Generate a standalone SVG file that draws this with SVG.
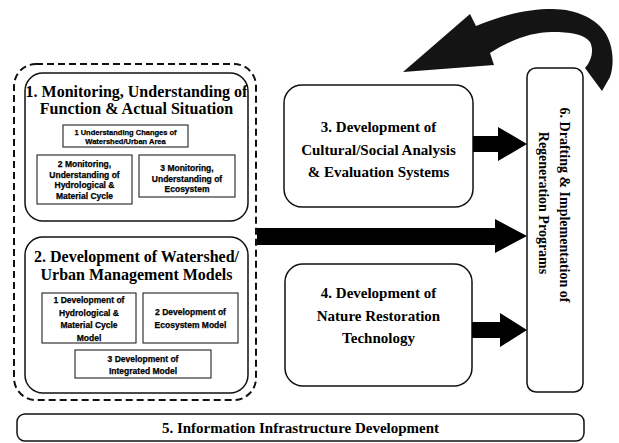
<svg xmlns="http://www.w3.org/2000/svg" width="619" height="443" viewBox="0 0 619 443">
  <style>
    .box { fill: #fff; stroke: #111; stroke-width: 1.5; }
    .sub { fill: #fff; stroke: #222; stroke-width: 1.1; }
    .group { fill: none; stroke: #111; stroke-width: 2; stroke-dasharray: 7 4; }
    .title { font-family: "Liberation Serif", "Times New Roman", serif; font-weight: bold; fill: #000; text-anchor: middle; }
    .t16 { font-size: 16px; }
    .t15 { font-size: 15px; }
    .t14 { font-size: 14px; }
    .small { font-family: "Liberation Sans", Arial, sans-serif; font-weight: bold; fill: #000; stroke: #000; stroke-width: 0.25; text-anchor: middle; font-size: 8.5px; }
    .tiny { font-size: 7.5px; }
    .arrow { fill: #000; }
    .curve { fill: #141414; }
  </style>

  <!-- grouping of research themes 1 and 2 -->
  <rect id="theme-group" class="group" x="14" y="64" width="242" height="336" rx="22"/>

  <g id="node-1">
    <rect class="box" x="25" y="73" width="223" height="148" rx="18"/>
    <text class="title t16" x="136.5" y="97">1. Monitoring, Understanding of</text>
    <text class="title t16" x="136.5" y="114">Function &amp; Actual Situation</text>
  </g>

  <g id="node-1-1">
    <rect class="sub" x="63" y="125" width="125" height="22"/>
    <text class="small tiny" x="125.5" y="134.5">1  Understanding Changes of</text>
    <text class="small tiny" x="125.5" y="143.5">Watershed/Urban Area</text>
  </g>

  <g id="node-1-2">
    <rect class="sub" x="37" y="155" width="95" height="49"/>
    <text class="small" x="84.5" y="167">2  Monitoring,</text>
    <text class="small" x="84.5" y="177.5">Understanding of</text>
    <text class="small" x="84.5" y="188">Hydrological &amp;</text>
    <text class="small" x="84.5" y="198.5">Material Cycle</text>
  </g>

  <g id="node-1-3">
    <rect class="sub" x="139" y="155" width="96" height="42"/>
    <text class="small" x="187" y="171">3  Monitoring,</text>
    <text class="small" x="187" y="181.5">Understanding of</text>
    <text class="small" x="187" y="192">Ecosystem</text>
  </g>

  <g id="node-2">
    <rect class="box" x="25" y="237" width="223" height="156" rx="18"/>
    <text class="title t16" x="136.5" y="262">2. Development of Watershed/</text>
    <text class="title t16" x="136.5" y="280">Urban Management Models</text>
  </g>

  <g id="node-2-1">
    <rect class="sub" x="42" y="293" width="94" height="50"/>
    <text class="small" x="89" y="303">1  Development of</text>
    <text class="small" x="89" y="315.5">Hydrological &amp;</text>
    <text class="small" x="89" y="328">Material Cycle</text>
    <text class="small" x="89" y="340.5">Model</text>
  </g>

  <g id="node-2-2">
    <rect class="sub" x="143" y="293" width="95" height="50"/>
    <text class="small" x="190.5" y="315">2  Development of</text>
    <text class="small" x="190.5" y="328">Ecosystem Model</text>
  </g>

  <g id="node-2-3">
    <rect class="sub" x="75" y="350" width="136" height="28"/>
    <text class="small" x="143" y="362">3  Development of</text>
    <text class="small" x="143" y="374">Integrated Model</text>
  </g>

  <g id="node-3">
    <rect class="box" x="284" y="85" width="189" height="122" rx="18"/>
    <text class="title t15" x="378.5" y="132">3. Development of</text>
    <text class="title t15" x="378.5" y="154.5">Cultural/Social Analysis</text>
    <text class="title t15" x="378.5" y="177">&amp; Evaluation Systems</text>
  </g>

  <g id="node-4">
    <rect class="box" x="285" y="264" width="187" height="122" rx="18"/>
    <text class="title t15" x="378.5" y="298">4. Development of</text>
    <text class="title t15" x="378.5" y="320.5">Nature Restoration</text>
    <text class="title t15" x="378.5" y="343">Technology</text>
  </g>

  <g id="node-6">
    <rect class="box" x="527" y="68" width="56" height="324" rx="9"/>
    <text class="title t14" transform="translate(560,205) rotate(90)">6. Drafting &amp; Implementation of</text>
    <text class="title t14" transform="translate(539,203) rotate(90)">Regeneration Programs</text>
  </g>

  <g id="node-5">
    <rect class="box" x="17" y="414" width="567" height="27" rx="8"/>
    <text class="title t15" x="300.5" y="433">5. Information Infrastructure Development</text>
  </g>

  <g id="connectors">
    <!-- theme 3 to programs -->
    <polygon class="arrow" points="473,136 498,136 498,127 527,144 498,161 498,152 473,152"/>
    <!-- themes 1 and 2 to programs -->
    <polygon class="arrow" points="257,228 495,228 495,219 527,236 495,253 495,245 257,245"/>
    <!-- theme 4 to programs -->
    <polygon class="arrow" points="472,322 500,322 500,313 527,330 500,347 500,338 472,338"/>
    <!-- feedback loop from programs back to the research themes -->
    <path class="curve" d="M403,72 L470,14 L476,26 C505,14 530,9 552,9 C578,9 598,20 606,34 C614,48 614,66 610,77 L602,91 L585,68 C592,60 594,50 590,42 C584,34 570,32 552,32 C532,32 510,40 490,53 L494,65 Z"/>
  </g>
</svg>
